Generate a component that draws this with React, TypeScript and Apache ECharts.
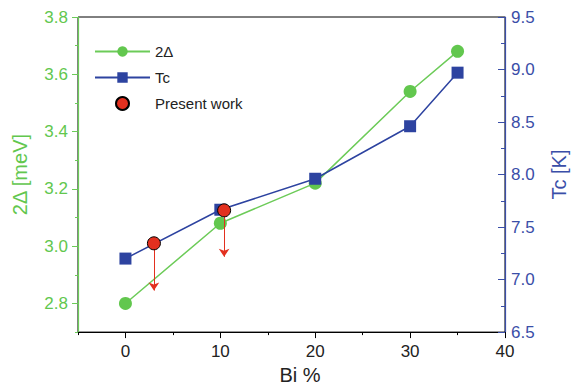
import React, { useEffect, useRef } from "react";
import * as echarts from "echarts";

const bi = [0, 10, 20, 30, 35];
const gap2D = [2.8, 3.08, 3.22, 3.54, 3.68];
const tc = [7.2, 7.665, 7.96, 8.46, 8.97];
const presentX = [3, 10.4];
const presentY = [3.01, 3.125];
const arrowEndY = [2.845, 2.963];

const xMajor = [0, 10, 20, 30, 40];
const xMinor = [-5, 5, 15, 25, 35];
const yLeftMajor = [2.8, 3.0, 3.2, 3.4, 3.6, 3.8];
const yLeftMinor = [2.7, 2.9, 3.1, 3.3, 3.5, 3.7];

const GREEN = "#62c74e";
const GREEN_LINE = "#6ccb58";
const BLUE = "#2d43a0";
const BLUE_AXIS = "#3a4ea8";
const RED = "#e3301f";
const FONT = "'Liberation Sans', Arial, sans-serif";

export default function App() {
  const ref = useRef<HTMLDivElement>(null);
  useEffect(() => {
    if (!ref.current) return;
    const chart = echarts.init(ref.current, null, { renderer: "svg" });
    const option: any = {
      animation: false,
      backgroundColor: "#fff",
      textStyle: { fontFamily: FONT },
      grid: {
        left: 78,
        right: 68,
        top: 17,
        bottom: 53,
        show: true,
        borderColor: "#000",
        borderWidth: 1,
      },
      legend: {
        orient: "vertical",
        left: 89,
        top: 39,
        itemWidth: 55,
        itemHeight: 13,
        itemGap: 11,
        textStyle: { fontSize: 15, color: "#222", fontFamily: FONT },
        data: ["2Δ", "Tc", "Present work"],
      },
      xAxis: [
        {
          type: "value",
          min: -5,
          max: 40,
          interval: 5,
          name: "Bi %",
          nameLocation: "middle",
          nameGap: 29,
          nameTextStyle: { fontSize: 20, color: "#222", fontFamily: FONT, padding: [0, 0, 0, 17] },
          axisLine: { show: true, onZero: false, lineStyle: { color: "#000", width: 1 } },
          axisTick: { show: true, length: 6, customValues: xMajor, lineStyle: { color: "#000" } },
          axisLabel: { customValues: xMajor, fontSize: 17, color: "#222", margin: 11, fontFamily: FONT },
          splitLine: { show: false },
        },
        {
          type: "value",
          min: -5,
          max: 40,
          interval: 5,
          position: "bottom",
          offset: 0,
          axisLine: { show: false, onZero: false },
          axisTick: { show: true, length: 3, customValues: xMinor, lineStyle: { color: "#000" } },
          axisLabel: { show: false },
          splitLine: { show: false },
        },
      ],
      yAxis: [
        {
          type: "value",
          min: 2.7,
          max: 3.8,
          position: "left",
          name: "2Δ [meV]",
          nameLocation: "middle",
          nameGap: 48,
          nameTextStyle: { fontSize: 20, color: GREEN, fontFamily: FONT },
          axisLine: { show: true, onZero: false, lineStyle: { color: GREEN_LINE, width: 1.2 } },
          axisTick: { show: true, length: 6, customValues: yLeftMajor, lineStyle: { color: GREEN_LINE } },
          axisLabel: {
            customValues: yLeftMajor,
            fontSize: 17,
            color: GREEN,
            margin: 10,
            fontFamily: FONT,
            formatter: (v: number) => v.toFixed(1),
          },
          splitLine: { show: false },
        },
        {
          type: "value",
          min: 6.5,
          max: 9.5,
          interval: 0.5,
          position: "right",
          name: "Tc [K]",
          nameLocation: "middle",
          nameGap: 44,
          nameTextStyle: { fontSize: 20, color: BLUE_AXIS, fontFamily: FONT },
          axisLine: { show: true, onZero: false, lineStyle: { color: BLUE_AXIS, width: 1.2 } },
          axisTick: { show: true, inside: true, length: 7, lineStyle: { color: BLUE_AXIS } },
          minorTick: { show: true, splitNumber: 2, length: 4, lineStyle: { color: BLUE_AXIS } },
          axisLabel: {
            fontSize: 17,
            color: BLUE_AXIS,
            margin: 6,
            fontFamily: FONT,
            formatter: (v: number) => v.toFixed(1),
          },
          splitLine: { show: false },
        },
        {
          type: "value",
          min: 2.7,
          max: 3.8,
          position: "left",
          offset: 0,
          axisLine: { show: false, onZero: false },
          axisTick: { show: true, length: 3, customValues: yLeftMinor, lineStyle: { color: GREEN_LINE } },
          axisLabel: { show: false },
          splitLine: { show: false },
        },
      ],
      series: [
        {
          name: "2Δ",
          type: "line",
          xAxisIndex: 0,
          yAxisIndex: 0,
          data: bi.map((x, i) => [x, gap2D[i]]),
          symbol: "circle",
          symbolSize: 13,
          itemStyle: { color: GREEN, opacity: 1 },
          lineStyle: { color: GREEN_LINE, width: 1.5 },
          z: 2,
        },
        {
          name: "Tc",
          type: "line",
          xAxisIndex: 0,
          yAxisIndex: 1,
          data: bi.map((x, i) => [x, tc[i]]),
          symbol: "rect",
          symbolSize: 12,
          itemStyle: { color: BLUE, opacity: 1 },
          lineStyle: { color: BLUE, width: 1.5 },
          z: 3,
        },
        {
          name: "Present work",
          type: "scatter",
          xAxisIndex: 0,
          yAxisIndex: 0,
          data: presentX.map((x, i) => [x, presentY[i]]),
          symbol: "circle",
          symbolSize: 13,
          itemStyle: { color: RED, opacity: 1, borderColor: "#000", borderWidth: 1 },
          z: 5,
          markLine: {
            silent: true,
            symbol: ["none", "arrow"],
            symbolSize: 8,
            label: { show: false },
            lineStyle: { color: RED, width: 1, type: "solid" },
            data: presentX.map((x, i) => [
              { coord: [x, presentY[i] - 0.02] },
              { coord: [x, arrowEndY[i]] },
            ]),
          },
        },
      ],
    };
    chart.setOption(option);
    return () => chart.dispose();
  }, []);
  return (
    <div
      ref={ref}
      style={{ position: "fixed", left: 0, top: 0, width: 577, height: 390 }}
    />
  );
}
